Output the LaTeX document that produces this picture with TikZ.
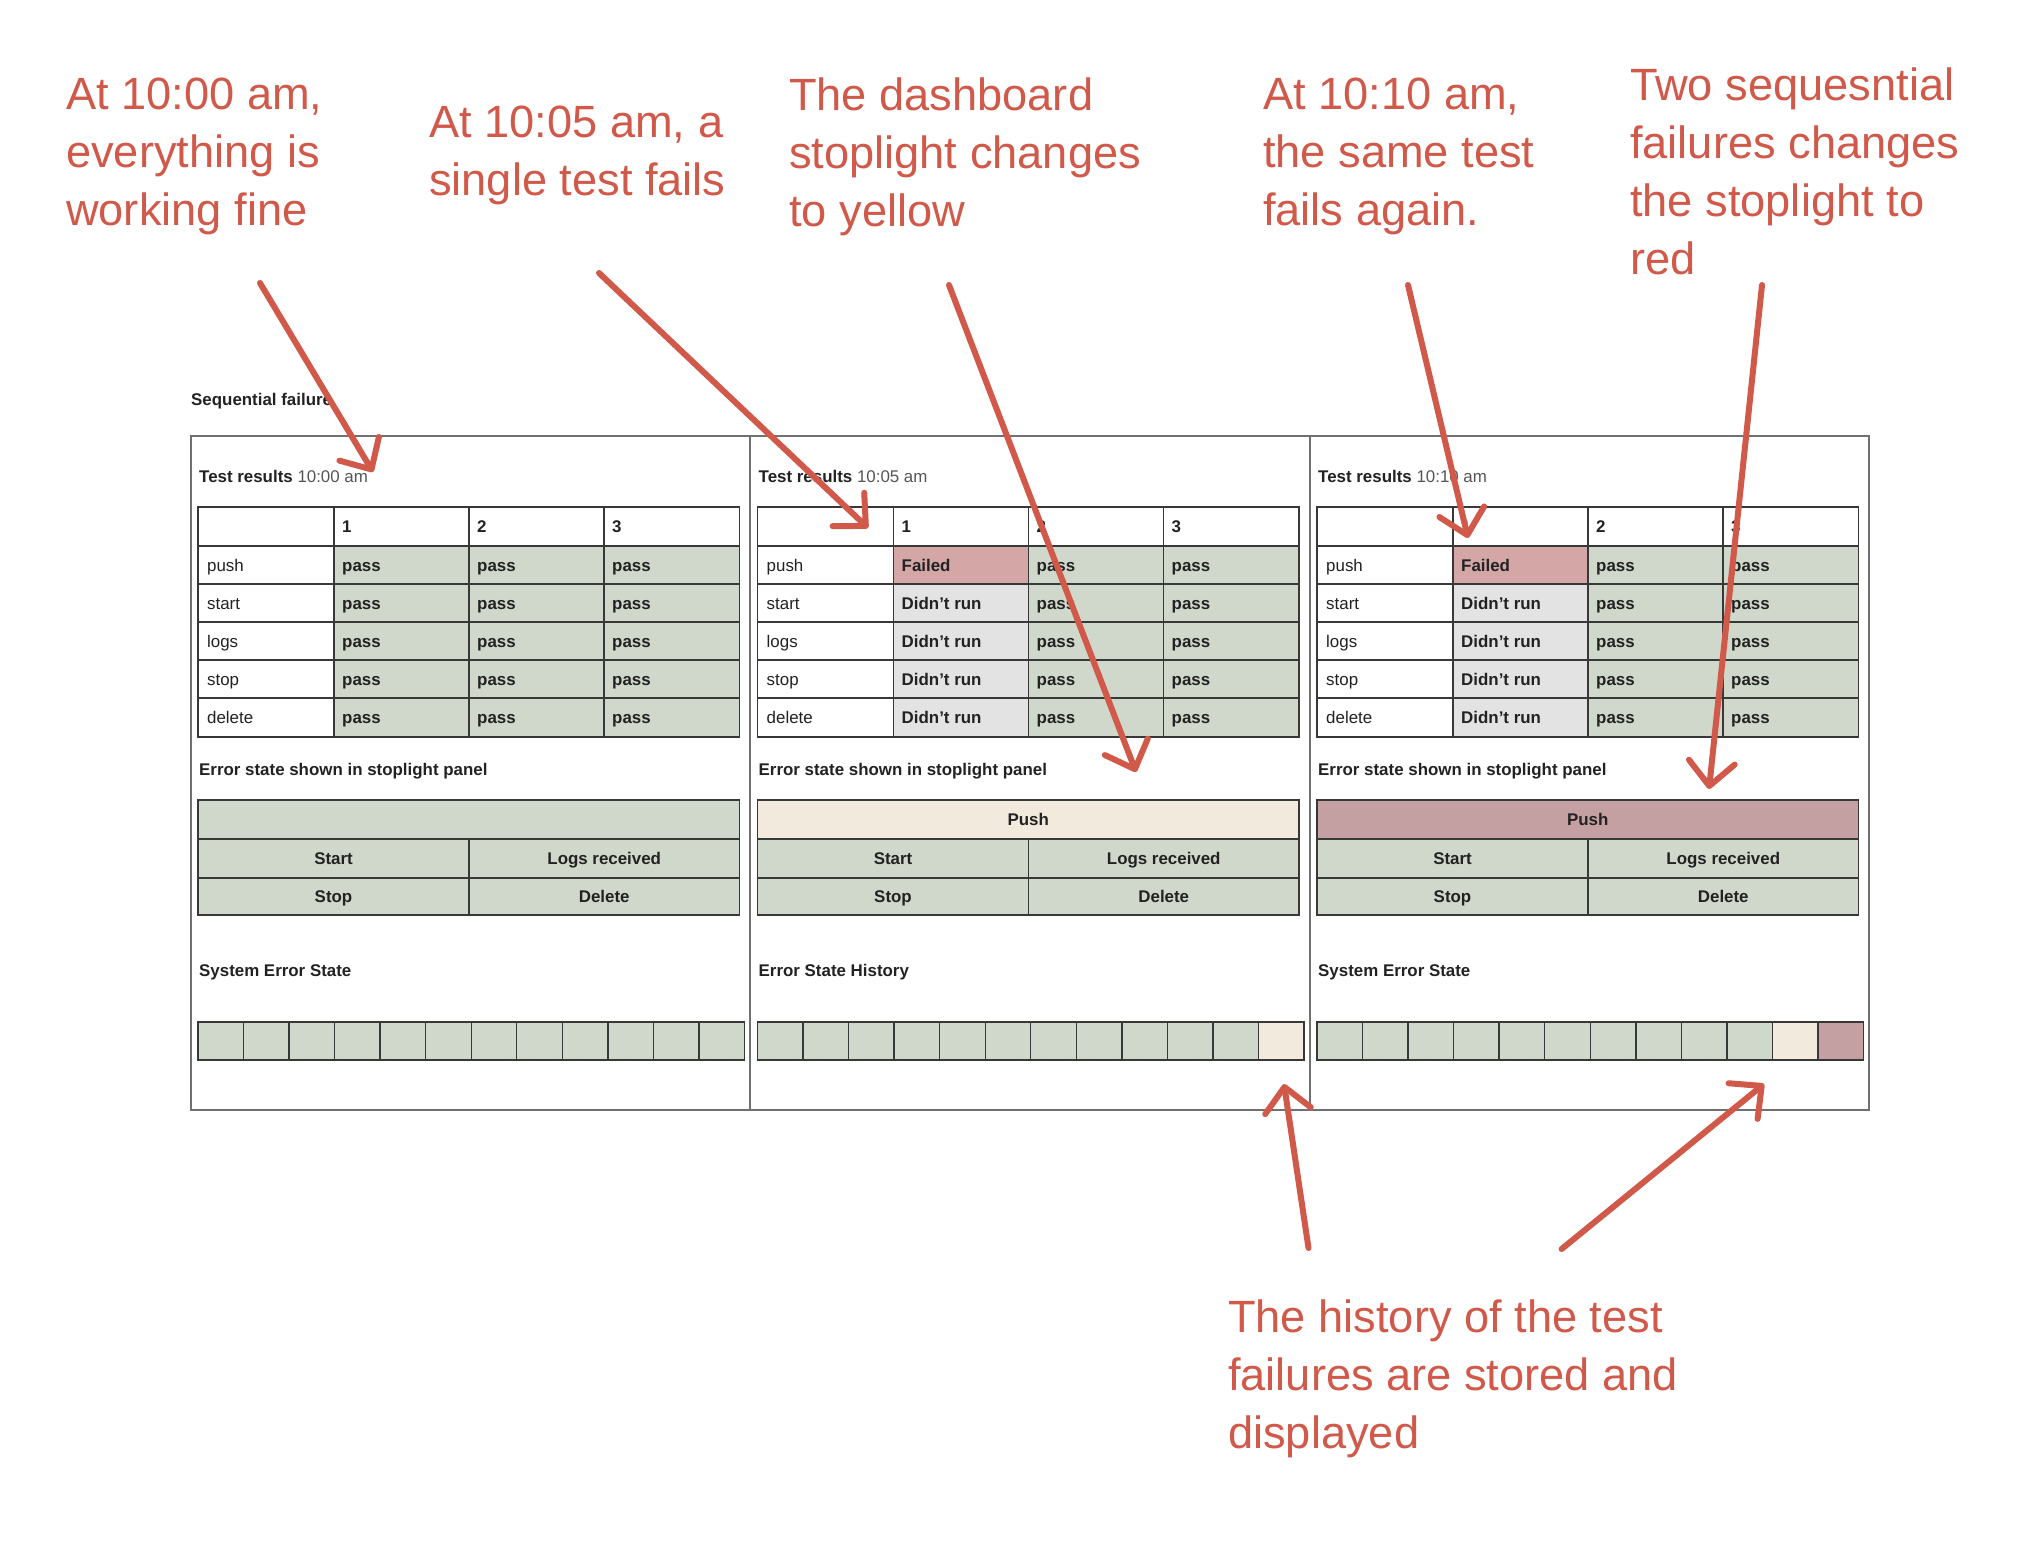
\documentclass[tikz,border=0pt]{standalone}
\usepackage{fontspec}
\setmainfont{Liberation Sans}
\usetikzlibrary{arrows.meta}
\definecolor{annc}{HTML}{D0594A}
\definecolor{gcell}{HTML}{CFD8CB}
\definecolor{fcell}{HTML}{D4A6A6}
\definecolor{dcell}{HTML}{E3E3E3}
\definecolor{ycell}{HTML}{F2EADC}
\definecolor{rcell}{HTML}{C4A0A2}
\definecolor{gridc}{HTML}{383838}
\definecolor{framec}{HTML}{707070}
\definecolor{txtc}{HTML}{222222}
\definecolor{timec}{HTML}{555555}
\begin{document}
\begin{tikzpicture}[x=1pt,y=-1pt,
  gridline/.style={draw=gridc, line width=1.4pt, line cap=rect},
  frameline/.style={draw=framec, line width=1.3pt},
  lbl/.style={font=\fontsize{16.9}{19}\selectfont, anchor=base west, inner sep=0pt, text=txtc},
  bl/.style={font=\fontsize{16.9}{19}\selectfont\bfseries, anchor=base west, inner sep=0pt, text=txtc},
  ctr/.style={font=\fontsize{16.9}{19}\selectfont\bfseries, anchor=base, inner sep=0pt, text=txtc},
  ann/.style={text=annc, font=\fontsize{45.2}{58}\selectfont, align=left, anchor=north west, inner sep=0pt},
  callout/.style={draw=annc, line width=6pt, line cap=round,
    -{Straight Barb[length=24pt,width=46pt,line cap=round,line join=round]}}
]
\useasboundingbox (0,0) rectangle (2034,1557);
\fill[white] (0,0) rectangle (2034,1557);

% title
\node[bl] (title) at (191,405) {Sequential failure};

\foreach \p/\dx/\tm/\lab in {1/0/10:00/System Error State,2/559.5/10:05/Error State History,3/1119/10:10/System Error State}{
\begin{scope}[xshift=\dx pt]
  % ---- test result table fills
  \fill[gcell] (334,546) rectangle (739.5,737);
  \ifnum\p>1
    \fill[fcell] (334,546) rectangle (469,584);
    \fill[dcell] (334,584) rectangle (469,737);
  \fi
  \foreach \yy in {507,546,584,622,660,698,737}
    \draw[gridline] (198,\yy) -- (739.5,\yy);
  \foreach \xx in {198,334,469,604,739.5}
    \draw[gridline] (\xx,507) -- (\xx,737);
  \node[bl] (tr\p) at (199,482) {Test results {\mdseries\color{timec}\tm\ am}};
  \foreach \c/\cx in {1/342,2/477,3/612}
    \node[bl] (h\p-\c) at (\cx,532) {\c};
  \foreach \rl [count=\r] in {push,start,logs,stop,delete}{
    \node[lbl] (l\p-\r) at (207,{571+(\r-1)*38.2}) {\rl};
    \foreach \c/\cx in {1/342,2/477,3/612}
      \node[bl] (v\p-\r-\c) at (\cx,{571+(\r-1)*38.2})
        {\ifnum\p>1 \ifnum\c=1 \ifnum\r=1 Failed\else Didn’t run\fi\else pass\fi\else pass\fi};
  }
  % ---- stoplight panel
  \node[bl] (es\p) at (199,775) {Error state shown in stoplight panel};
  \fill[gcell] (198,800) rectangle (739.5,915);
  \ifnum\p=2 \fill[ycell] (198,800) rectangle (739.5,839); \fi
  \ifnum\p=3 \fill[rcell] (198,800) rectangle (739.5,839); \fi
  \foreach \yy in {800,839,878,915}
    \draw[gridline] (198,\yy) -- (739.5,\yy);
  \draw[gridline] (198,800) -- (198,915);
  \draw[gridline] (739.5,800) -- (739.5,915);
  \draw[gridline] (469,839) -- (469,915);
  \ifnum\p>1 \node[ctr] (sp\p) at (468.75,825.5) {Push}; \fi
  \node[ctr] (ss\p) at (333.5,864.5) {Start};
  \node[ctr] (sl\p) at (604.25,864.5) {Logs received};
  \node[ctr] (so\p) at (333.5,902.5) {Stop};
  \node[ctr] (sd\p) at (604.25,902.5) {Delete};
  % ---- history strip
  \node[bl] (hs\p) at (199,976) {\lab};
  \fill[gcell] (198,1022) rectangle (744.5,1060);
  \ifnum\p=2 \fill[ycell] (699,1022) rectangle (744.5,1060); \fi
  \ifnum\p=3
    \fill[ycell] (653.4,1022) rectangle (699,1060);
    \fill[rcell] (699,1022) rectangle (744.5,1060);
  \fi
  \draw[gridline] (198,1022) -- (744.5,1022);
  \draw[gridline] (198,1060) -- (744.5,1060);
  \foreach \k in {0,...,12}
    \draw[gridline] ({198+\k*45.54},1022) -- ({198+\k*45.54},1060);
\end{scope}
}

% outer frame
\draw[frameline] (191,436) rectangle (1869,1110);
\draw[frameline] (750,436) -- (750,1110);
\draw[frameline] (1310,436) -- (1310,1110);

% annotations
\node[ann] (n1) at (66,78) {At 10:00 am,\\everything is\\working fine};
\node[ann] (n2) at (429,106) {At 10:05 am, a\\single test fails};
\node[ann] (n3) at (789,78) {The dashboard\\stoplight changes\\to yellow};
\node[ann] (n4) at (1263,78) {At 10:10 am,\\the same test\\fails again.};
\node[ann] (n5) at (1630,68) {Two sequesntial\\failures changes\\the stoplight to\\red};
\node[ann] (n6) at (1228,1300) {The history of the test\\failures are stored and\\displayed};

% arrows
\coordinate (a1s) at (260,283);   \coordinate (a1e) at (373,472);
\coordinate (a2s) at (599,273);   \coordinate (a2e) at (868,528);
\coordinate (a3s) at (949,285);   \coordinate (a3e) at (1136,772);
\coordinate (a4s) at (1408,285);  \coordinate (a4e) at (1468,538);
\coordinate (a5s) at (1762,285);  \coordinate (a5e) at (1709,789);
\coordinate (a6s) at (1308.5,1248); \coordinate (a6e) at (1284,1084);
\coordinate (a7s) at (1561.6,1249); \coordinate (a7e) at (1764,1084);
\foreach \i in {1,...,7} \draw[callout] (a\i s) -- (a\i e);
\end{tikzpicture}
\end{document}
